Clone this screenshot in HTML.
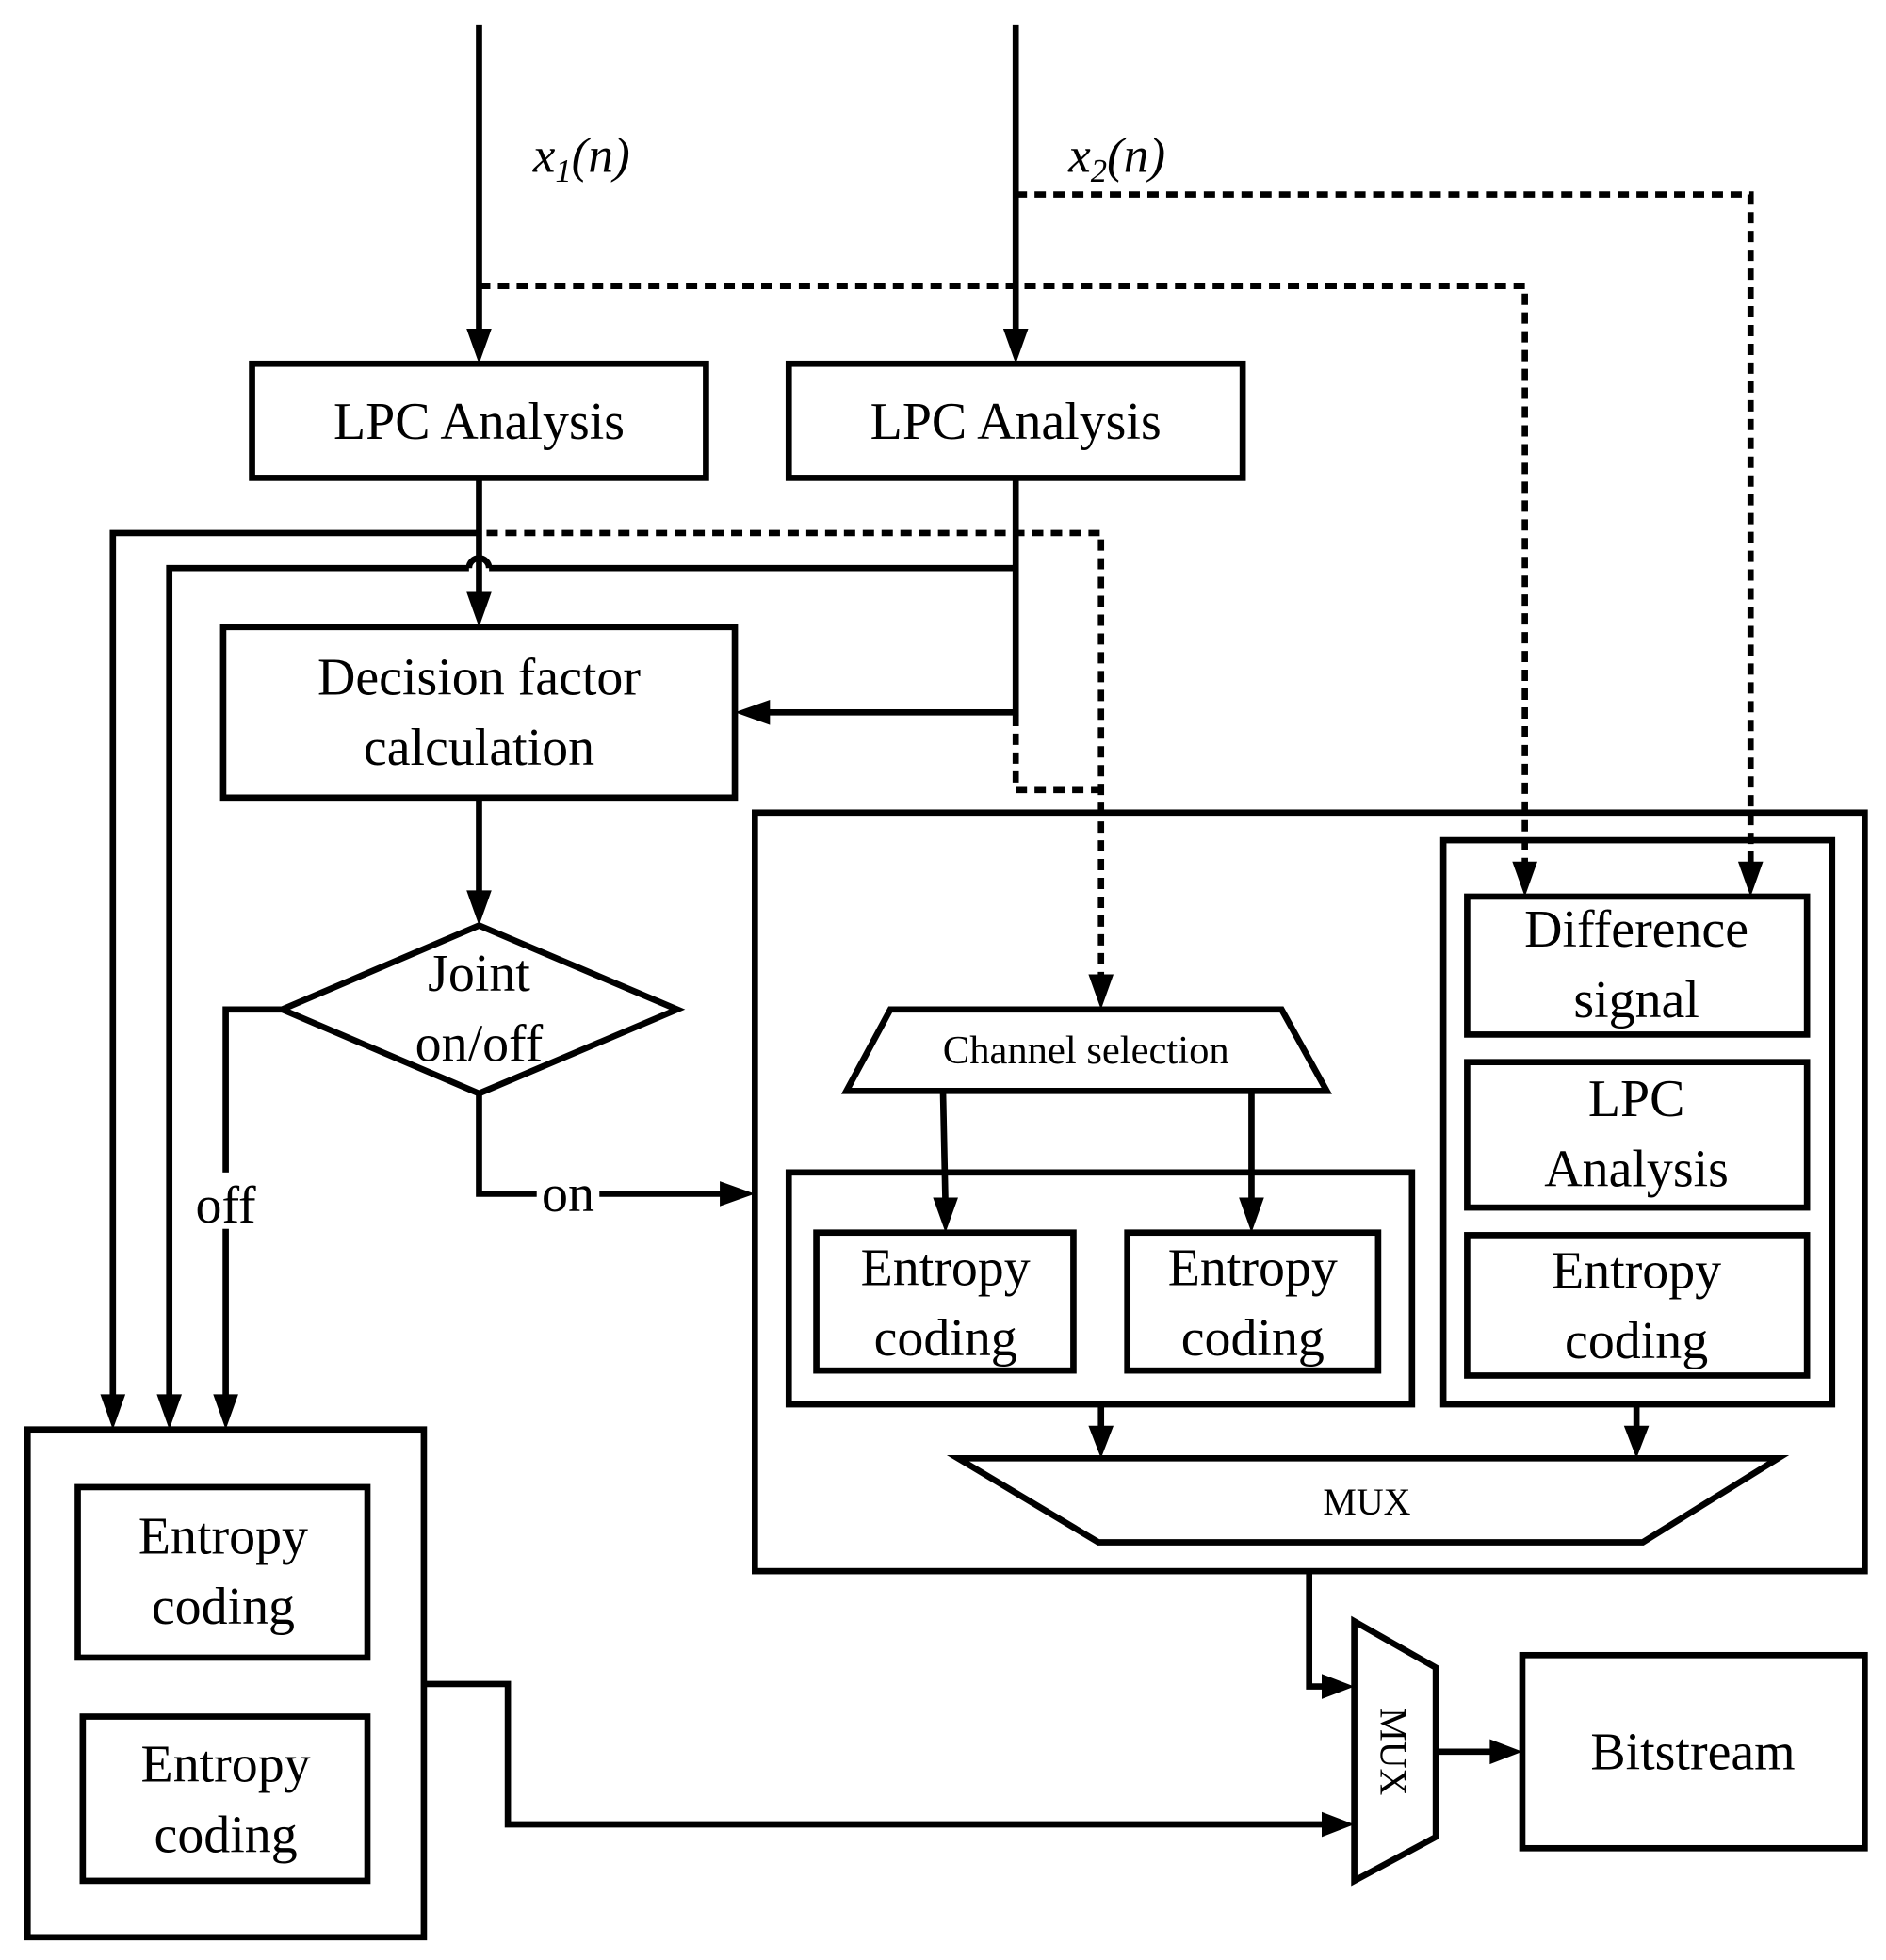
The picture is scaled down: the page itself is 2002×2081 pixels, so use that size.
<!DOCTYPE html>
<html><head><meta charset="utf-8">
<style>
html,body{margin:0;padding:0;background:#fff;}
svg{display:block;}
text{font-family:"Liberation Serif",serif;fill:#000;}
</style></head>
<body>
<svg width="2002" height="2081" viewBox="0 0 1504 1563" xmlns="http://www.w3.org/2000/svg">
<g fill="none" stroke="#000" stroke-width="5">
<line x1="382" y1="20" x2="382" y2="270"/>
<line x1="810" y1="20" x2="810" y2="270"/>
<g stroke-dasharray="9,6">
<polyline points="382,228 1216,228 1216,692"/>
<polyline points="810,155 1396,155 1396,692"/>
<polyline points="388,425 878,425 878,785"/>
<polyline points="810,570 810,630 878,630"/>
</g>
<rect x="201" y="290" width="362" height="91"/>
<rect x="629" y="290" width="362" height="91"/>
<rect x="178" y="500" width="408" height="136"/>
<polygon points="382,738 540,805 382,872 225,805"/>
<rect x="602" y="648" width="885" height="605"/>
<polygon points="710,805 1022,805 1058,870 675,870"/>
<rect x="629" y="935" width="497" height="185"/>
<rect x="651" y="983" width="205" height="110"/>
<rect x="899" y="983" width="200" height="110"/>
<rect x="1151" y="670" width="310" height="450"/>
<rect x="1170" y="715" width="271" height="110"/>
<rect x="1170" y="847" width="271" height="116"/>
<rect x="1170" y="985" width="271" height="112"/>
<polygon points="764,1163 1418,1163 1310,1230 876,1230"/>
<polygon points="1080,1293 1145,1330 1145,1465 1080,1500"/>
<rect x="1214" y="1320" width="273" height="154"/>
<rect x="22" y="1140" width="316" height="405"/>
<rect x="62" y="1186" width="231" height="136"/>
<rect x="66" y="1369" width="227" height="131"/>
<line x1="382" y1="381" x2="382" y2="480"/>
<polyline points="382,425 90,425 90,1120"/>
<path d="M810,453 L390,453 M374,453 L135,453 L135,1120"/>
<path d="M374,453 a8,8 0 0 1 16,0"/>
<polyline points="810,381 810,568 606,568"/>
<line x1="382" y1="636" x2="382" y2="718"/>
<polyline points="225,805 180,805 180,1120"/>
<polyline points="382,872 382,952 580,952"/>
<line x1="752" y1="870" x2="754" y2="963"/>
<line x1="998" y1="870" x2="998" y2="963"/>
<line x1="878" y1="1120" x2="878" y2="1143"/>
<line x1="1305" y1="1120" x2="1305" y2="1143"/>
<polyline points="1044,1253 1044,1345 1060,1345"/>
<line x1="1145" y1="1397" x2="1194" y2="1397"/>
<polyline points="338,1343 405,1343 405,1455 1060,1455"/>
</g>
<g fill="#000">
<polygon points="372,262 392,262 382,290"/>
<polygon points="800,262 820,262 810,290"/>
<polygon points="372,472 392,472 382,500"/>
<polygon points="614,558 614,578 586,568"/>
<polygon points="372,710 392,710 382,738"/>
<polygon points="80,1112 100,1112 90,1140"/>
<polygon points="125,1112 145,1112 135,1140"/>
<polygon points="170,1112 190,1112 180,1140"/>
<polygon points="574,942 574,962 602,952"/>
<polygon points="868,777 888,777 878,805"/>
<polygon points="1206,687 1226,687 1216,715"/>
<polygon points="1386,687 1406,687 1396,715"/>
<polygon points="744,955 764,955 754,983"/>
<polygon points="988,955 1008,955 998,983"/>
<polygon points="868,1137 888,1137 878,1163"/>
<polygon points="1295,1137 1315,1137 1305,1163"/>
<polygon points="1054,1335 1054,1355 1080,1345"/>
<polygon points="1054,1445 1054,1465 1080,1455"/>
<polygon points="1188,1387 1188,1407 1214,1397"/>
</g>
<rect x="150" y="935" width="60" height="45" fill="#fff"/>
<rect x="428" y="930" width="50" height="42" fill="#fff"/>
<g font-size="42" text-anchor="middle">
<text x="382" y="554">Decision factor</text>
<text x="382" y="610">calculation</text>
<text x="382" y="350">LPC Analysis</text>
<text x="810" y="350">LPC Analysis</text>
<text x="382" y="790">Joint</text>
<text x="382" y="846">on/off</text>
<text x="180" y="975">off</text>
<text x="453" y="966">on</text>
<text x="754" y="1025">Entropy</text>
<text x="754" y="1081">coding</text>
<text x="999" y="1025">Entropy</text>
<text x="999" y="1081">coding</text>
<text x="1305" y="755">Difference</text>
<text x="1305" y="811">signal</text>
<text x="1305" y="890">LPC</text>
<text x="1305" y="946">Analysis</text>
<text x="1305" y="1027">Entropy</text>
<text x="1305" y="1083">coding</text>
<text x="178" y="1239">Entropy</text>
<text x="178" y="1295">coding</text>
<text x="180" y="1421">Entropy</text>
<text x="180" y="1477">coding</text>
<text x="1350" y="1411">Bitstream</text>
</g>
<text x="866" y="848" font-size="32" text-anchor="middle">Channel selection</text>
<text x="1090" y="1208" font-size="30" text-anchor="middle">MUX</text>
<text transform="translate(1101,1397) rotate(90)" font-size="30" text-anchor="middle">MUX</text>
<text x="425" y="137" font-size="40" font-style="italic">x<tspan font-size="26" dy="8">1</tspan><tspan dy="-8">(n)</tspan></text>
<text x="852" y="137" font-size="40" font-style="italic">x<tspan font-size="26" dy="8">2</tspan><tspan dy="-8">(n)</tspan></text>
</svg>
</body></html>
